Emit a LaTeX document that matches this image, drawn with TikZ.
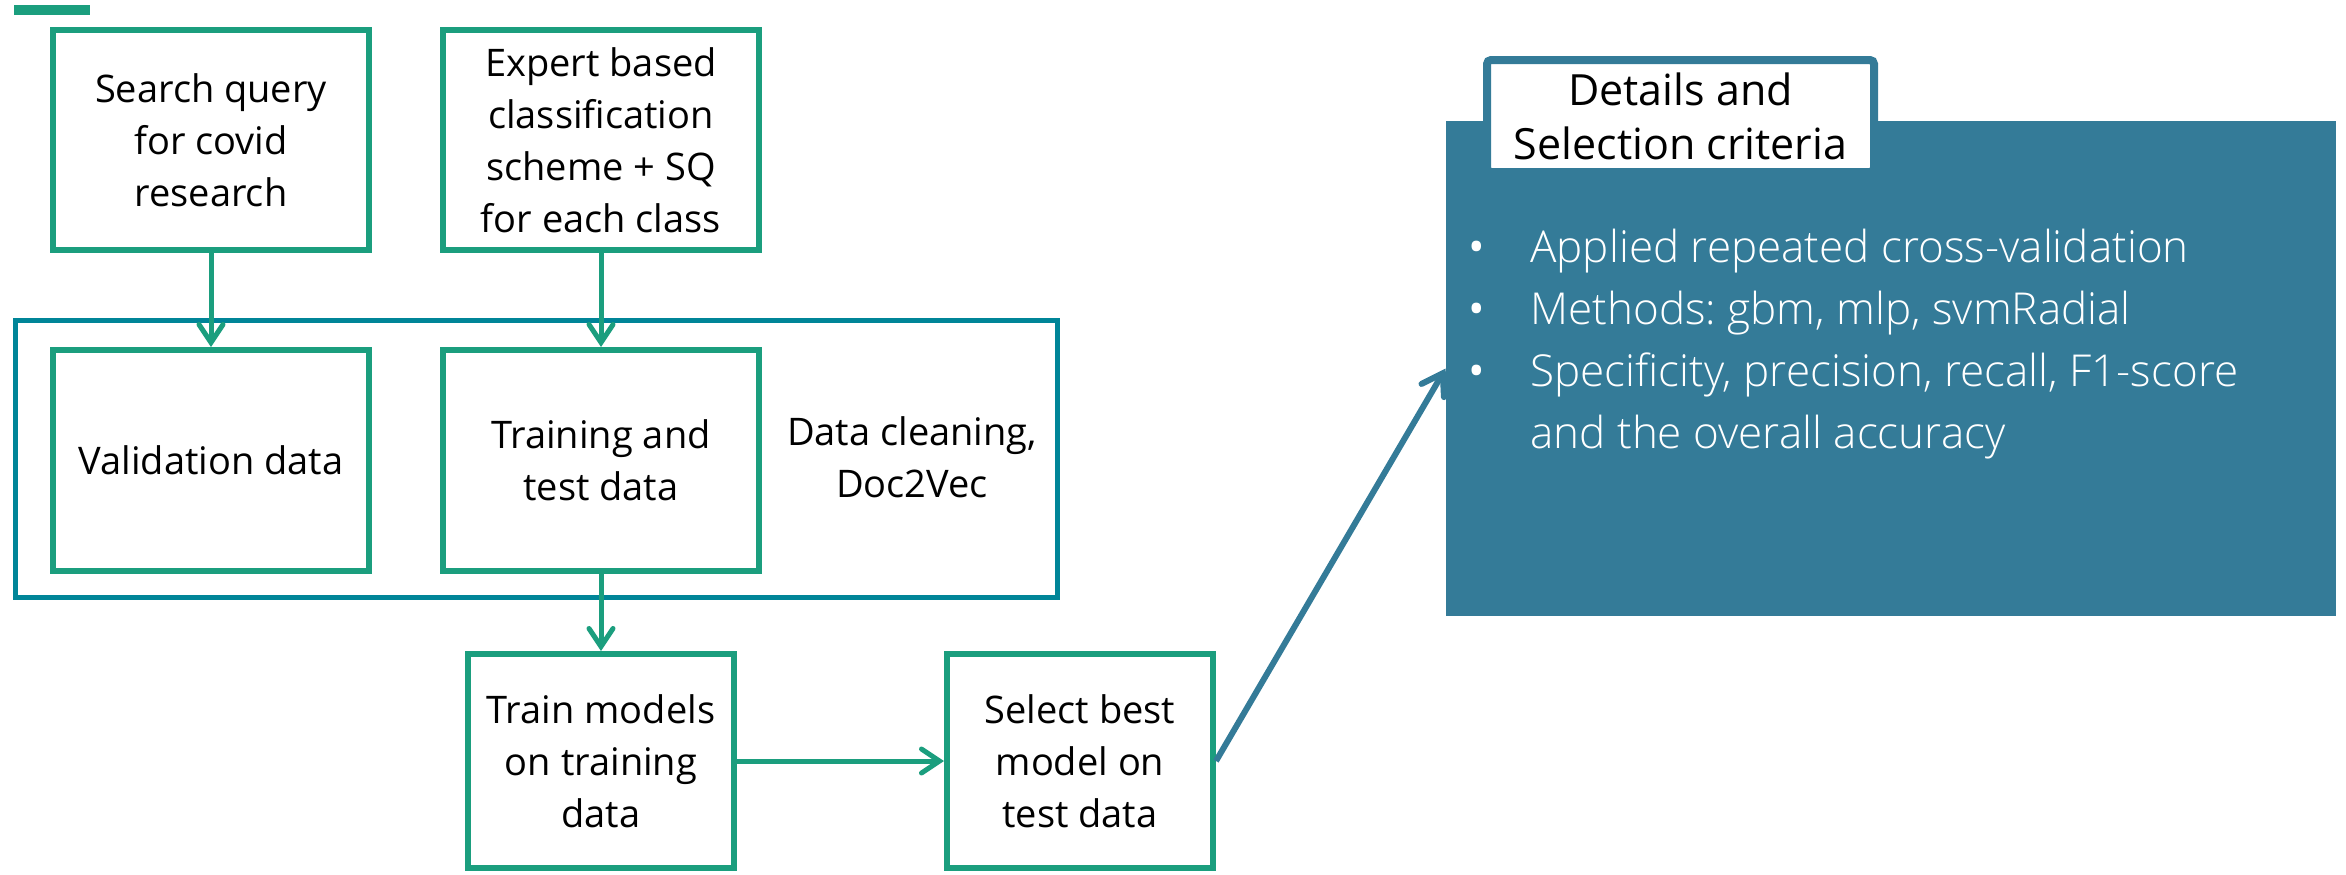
\documentclass[tikz,border=0pt]{standalone}
\usepackage{fontspec}
\setmainfont{Open Sans}
\IfFontExistsTF{Open Sans Light}{\newfontfamily\lightfont{Open Sans Light}}{\newfontfamily\lightfont{Open Sans}}
\usetikzlibrary{arrows.meta}
\definecolor{flowgreen}{RGB}{27,158,126}
\definecolor{frameteal}{RGB}{0,133,152}
\definecolor{panelblue}{RGB}{52,123,152}
\frenchspacing
\begin{document}
\begin{tikzpicture}[x=0.5pt,y=-0.5pt,
  boxfont/.style={font=\fontsize{19}{26}\selectfont},
  stepbox/.style={draw=flowgreen,line width=3pt,fill=white,inner sep=0pt,
    align=center,boxfont,minimum width=158pt,minimum height=110pt},
  flow/.style={draw=flowgreen,line width=2.5pt,
    -{Straight Barb[length=9pt,width=12pt,line width=2.5pt,line cap=round]}},
  bulletmark/.style={font=\fontsize{22}{31}\selectfont,text=white,inner sep=0pt},
  bulletfont/.style={font=\lightfont\fontsize{22}{31}\selectfont,text=white,inner sep=0pt}
]
\useasboundingbox (0,0) rectangle (2346,874);

% small accent bar top left
\fill[flowgreen] (14,5) rectangle (90,15);

% preprocessing frame
\node[draw=frameteal,line width=2.5pt,minimum width=521pt,minimum height=138.25pt,inner sep=0pt]
  (frame) at (536,459) {};
\node[boxfont,align=center] (clean) at (912,457) {Data cleaning,\\Doc2Vec};

% sources
\node[stepbox] (query) at (211,140) {Search query\\for covid\\research};
\node[stepbox] (expert) at (601,140) {Expert based\\classification\\scheme + SQ\\for each class};

% data sets
\node[stepbox,minimum height=110.5pt] (valid) at (211,460.5) {Validation data};
\node[stepbox,minimum height=110.5pt] (traintest) at (601,460.5) {Training and\\test data};

% modelling
\node[stepbox,minimum width=133pt,minimum height=107pt] (train) at (601,761) {Train models\\on training\\data};
\node[stepbox,minimum width=133pt,minimum height=107pt] (select) at (1080,761) {Select best\\model on\\test data};

\draw[flow] (query.south) -- (valid.north);
\draw[flow] (expert.south) -- (traintest.north);
\draw[flow] (traintest.south) -- (train.north);
\draw[flow] (train.east) -- (select.west);

% details panel
\node[fill=panelblue,minimum width=445pt,minimum height=247.5pt,inner sep=0pt]
  (panel) at (1891,368.5) {};
\node[draw=panelblue,fill=white,line width=4pt,rounded corners=2pt,
  minimum width=193.5pt,minimum height=56pt,inner sep=0pt,align=center,
  font=\fontsize{21.5}{27}\selectfont] (title) at (1680.5,116) {Details and\\Selection criteria};

\draw[draw=panelblue,line width=3pt,
  -{Straight Barb[length=10pt,width=13pt,line width=3pt,line cap=round]}]
  (select.east) -- (panel.west);

\node[bulletmark,anchor=base] (b1) at (1477,262) {\textbullet};
\node[bulletmark,anchor=base] (b2) at (1477,324) {\textbullet};
\node[bulletmark,anchor=base] (b3) at (1477,386) {\textbullet};
\node[bulletfont,anchor=base west] (t1) at (1530,262) {Applied repeated cross-validation};
\node[bulletfont,anchor=base west] (t2) at (1530,324) {Methods: gbm, mlp, svmRadial};
\node[bulletfont,anchor=base west] (t3) at (1530,386) {Specificity, precision, recall, F1-score};
\node[bulletfont,anchor=base west] (t4) at (1530,448) {and the overall accuracy};
\end{tikzpicture}
\end{document}
